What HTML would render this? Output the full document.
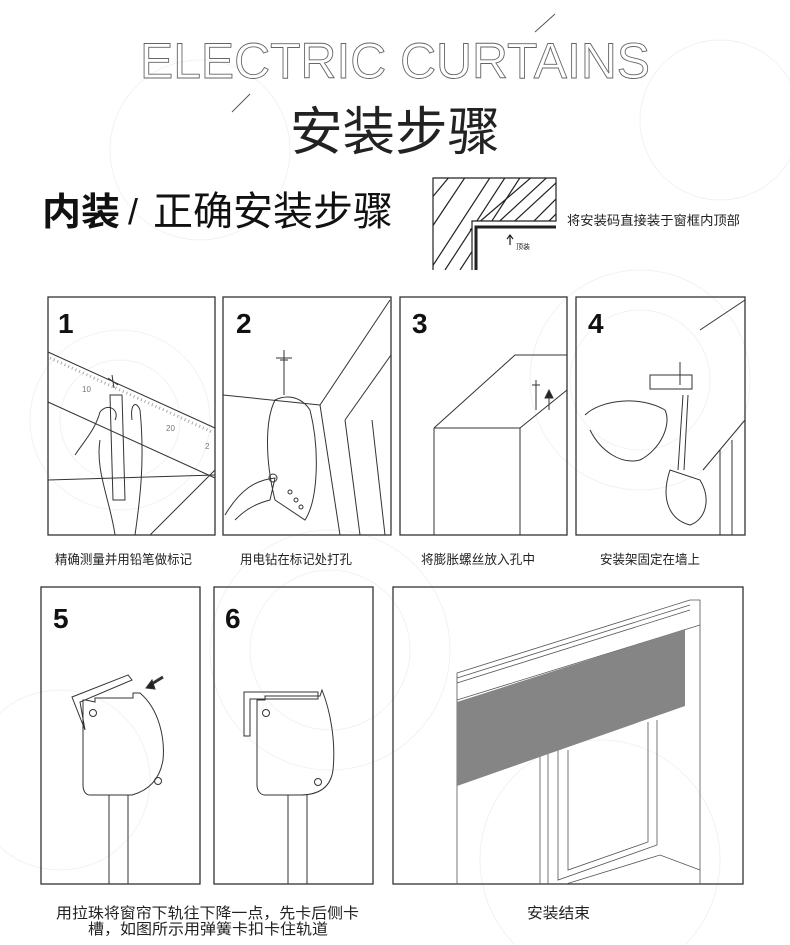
<!DOCTYPE html>
<html><head><meta charset="utf-8"><style>
body{margin:0;background:#fff;width:790px;height:945px;overflow:hidden;font-family:"Liberation Sans","Noto Sans CJK SC",sans-serif}
svg{position:absolute;left:0;top:0}
</style></head><body>
<svg width="790" height="945" viewBox="0 0 790 945" font-family="Liberation Sans, Noto Sans CJK SC, sans-serif">
<!-- background swirls -->
<g fill="none" stroke="#f2f2f2" stroke-width="1">
<circle cx="120" cy="420" r="90"/><circle cx="120" cy="420" r="60"/>
<circle cx="330" cy="650" r="120"/><circle cx="330" cy="650" r="80"/>
<circle cx="640" cy="380" r="110"/><circle cx="640" cy="380" r="70"/>
<circle cx="600" cy="860" r="120"/><circle cx="200" cy="150" r="90"/>
<circle cx="720" cy="120" r="80"/><circle cx="60" cy="780" r="90"/>
</g>
<!-- title -->
<text x="395" y="78" text-anchor="middle" font-size="50" fill="none" stroke="#666" stroke-width="0.9" textLength="510" lengthAdjust="spacingAndGlyphs">ELECTRIC CURTAINS</text>
<line x1="535" y1="32" x2="555" y2="14" stroke="#555"/>
<line x1="232" y1="112" x2="250" y2="94" stroke="#555"/>
<text x="290" y="150" font-size="52" fill="#222" textLength="210" lengthAdjust="spacingAndGlyphs">安装步骤</text>
<text x="42" y="225" font-size="38" font-weight="bold" fill="#111" textLength="78" lengthAdjust="spacingAndGlyphs">内装</text>
<text x="128" y="224" font-size="36" fill="#111">/</text>
<text x="153" y="225" font-size="40" fill="#111" textLength="240" lengthAdjust="spacingAndGlyphs">正确安装步骤</text>
<!-- hatch diagram -->
<g stroke="#222" fill="none" stroke-width="1.2">
<path d="M433 270 V178 H556 V221 H472 V270"/>
<path d="M476 270 V227 H556" stroke-width="3"/>
<clipPath id="hc"><path d="M433 270 V178 H556 V221 H472 V270Z"/></clipPath>
<g clip-path="url(#hc)">
<line x1="430" y1="230" x2="470" y2="170"/><line x1="430" y1="270" x2="495" y2="170"/>
<line x1="445" y1="270" x2="510" y2="170"/><line x1="460" y1="270" x2="525" y2="170"/>
<line x1="470" y1="230" x2="540" y2="170"/><line x1="490" y1="230" x2="555" y2="170"/>
<line x1="505" y1="230" x2="570" y2="170"/><line x1="525" y1="230" x2="585" y2="170"/>
<line x1="540" y1="230" x2="600" y2="170"/><line x1="430" y1="200" x2="455" y2="170"/>
</g>
<path d="M510 245 V236 M507 239 L510 235 L513 239"/>
</g>
<text x="516" y="249" font-size="7" fill="#222">顶装</text>
<text x="567" y="225" font-size="13" fill="#222" textLength="173" lengthAdjust="spacingAndGlyphs">将安装码直接装于窗框内顶部</text>
<!-- panels -->
<g fill="none" stroke="#333" stroke-width="1.3">
<rect x="48" y="297" width="167" height="238"/>
<rect x="223" y="297" width="168" height="238"/>
<rect x="400" y="297" width="167" height="238"/>
<rect x="576" y="297" width="169" height="238"/>
<rect x="41" y="587" width="159" height="297"/>
<rect x="214" y="587" width="159" height="297"/>
<rect x="393" y="587" width="350" height="297"/>
</g>
<g font-size="28" font-weight="bold" fill="#111">
<text x="58" y="333">1</text><text x="236" y="333">2</text><text x="412" y="333">3</text><text x="588" y="333">4</text>
<text x="53" y="628">5</text><text x="225" y="628">6</text>
</g>
<!-- panel 1 drawing -->
<g fill="none" stroke="#333" stroke-width="1">
<line x1="48" y1="352" x2="215" y2="428"/><line x1="48" y1="402" x2="215" y2="478"/>
<line x1="48" y1="480" x2="215" y2="475"/><line x1="150" y1="535" x2="215" y2="470"/>
<path d="M115 535 C110 500 95 470 100 440 M110 395 L113 500 L125 500 L122 395 Z"/>
<path d="M135 535 C140 500 145 460 140 410 C136 400 130 404 132 420"/>
<path d="M75 455 C85 440 95 430 100 412 C108 402 120 410 115 420"/>
<path d="M108 378 L118 385 M112 375 L114 388"/>
</g>
<g fill="#777" font-size="8"><text x="82" y="392">10</text><text x="166" y="431">20</text><text x="205" y="449">2</text></g>
<g stroke="#aaa" stroke-width="3" stroke-dasharray="1 3"><line x1="50" y1="358" x2="212" y2="432"/></g>
<!-- panel 2 -->
<g fill="none" stroke="#333" stroke-width="1">
<line x1="223" y1="395" x2="320" y2="405"/><line x1="320" y1="405" x2="390" y2="300"/>
<line x1="345" y1="420" x2="391" y2="355"/><line x1="345" y1="420" x2="360" y2="535"/>
<line x1="320" y1="405" x2="340" y2="535"/><line x1="372" y1="420" x2="385" y2="535"/>
<path d="M284 360 V395 M280 360 H288 M276 358 H292 M284 350 V366"/>
<path d="M275 400 C265 420 265 460 275 500 L305 520 C318 500 320 450 310 410 C300 395 285 395 275 400 Z"/>
<path d="M225 515 C240 490 255 480 275 478 L270 500 C250 505 240 515 235 520"/>
<circle cx="273" cy="478" r="4"/><circle cx="290" cy="492" r="2"/><circle cx="296" cy="500" r="2"/><circle cx="301" cy="507" r="2"/>
</g>
<!-- panel 3 -->
<g fill="none" stroke="#333" stroke-width="1">
<path d="M434 428 L515 355 L567 355 M434 428 L434 535 M434 428 L520 428 L567 390 M520 428 L520 535"/>
<path d="M536 380 V410 M532 385 H540"/>
<path d="M549 410 V395 M545 398 L549 390 L553 398 Z" fill="#222"/>
</g>
<!-- panel 4 -->
<g fill="none" stroke="#333" stroke-width="1">
<path d="M700 330 L745 300 M703 470 L745 420 M720 450 V535 M732 440 V535"/>
<rect x="650" y="375" width="42" height="14"/><path d="M680 362 V385"/>
<path d="M683 395 L678 470 M688 395 L684 470"/>
<path d="M670 470 C660 500 670 520 690 525 C705 520 712 500 700 480 Z"/>
<path d="M585 415 C600 400 640 395 665 410 C672 425 660 450 640 460 C620 465 600 450 590 430"/>
</g>
<!-- panel 5 -->
<g fill="none" stroke="#333" stroke-width="1">
<path d="M86 700 L95 702 L95 698 L133 698 L133 693 L140 693 C160 710 165 740 163 760 C160 778 150 790 132 795 L90 795 C85 795 83 790 83 785 V700 Z"/>
<path d="M72 697 L128 675 L132 680 L80 702 L85 730 Z"/>
<circle cx="93" cy="713" r="3.5"/><circle cx="158" cy="781" r="3.5"/>
<path d="M109 795 V884 M128 795 V884"/>
<path d="M163 677 L150 685" stroke-width="3"/><path d="M146 688 L152 680 L155 689 Z" fill="#222"/>
</g>
<!-- panel 6 -->
<g fill="none" stroke="#333" stroke-width="1">
<path d="M260 700 L265 700 L265 696 L320 696 L322 690 C330 710 336 740 333 770 C331 785 322 795 300 795 L265 795 C260 795 257 790 257 785 V700 Z"/>
<path d="M244 736 V692 L318 692 L318 699 L250 699 V736 Z"/>
<circle cx="266" cy="713" r="3.5"/><circle cx="318" cy="782" r="3.5"/>
<path d="M288 795 V884 M307 795 V884"/>
</g>
<!-- panel 7 -->
<g fill="none" stroke="#555" stroke-width="0.8">
<path d="M457 673 L690 600 L700 600 L700 625 L457 700 Z"/>
<path d="M457 678 L690 605 M457 683 L690 610"/>
<path d="M457 700 V884 M700 625 V884"/>
<path d="M540 756 V884 M548 752 V884 M558 750 V880 L657 845 V720 M568 750 V870 L648 842 V722"/>
<path d="M566 884 L660 855 L700 870"/>
</g>
<polygon points="457,702 685,629 685,706 457,786" fill="#858585"/>
<!-- captions -->
<g font-size="13" fill="#222" lengthAdjust="spacingAndGlyphs">
<text x="55" y="564" textLength="137" lengthAdjust="spacingAndGlyphs">精确测量并用铅笔做标记</text>
<text x="240" y="564" textLength="112" lengthAdjust="spacingAndGlyphs">用电钻在标记处打孔</text>
<text x="421" y="564" textLength="114" lengthAdjust="spacingAndGlyphs">将膨胀螺丝放入孔中</text>
<text x="600" y="564" textLength="100" lengthAdjust="spacingAndGlyphs">安装架固定在墙上</text>
<text x="56" y="918" font-size="15" textLength="303" lengthAdjust="spacingAndGlyphs">用拉珠将窗帘下轨往下降一点，先卡后侧卡</text>
<text x="88" y="934" font-size="15" textLength="240" lengthAdjust="spacingAndGlyphs">槽，如图所示用弹簧卡扣卡住轨道</text>
<text x="527" y="918" font-size="15" textLength="63" lengthAdjust="spacingAndGlyphs">安装结束</text>
</g>
</svg>
</body></html>
